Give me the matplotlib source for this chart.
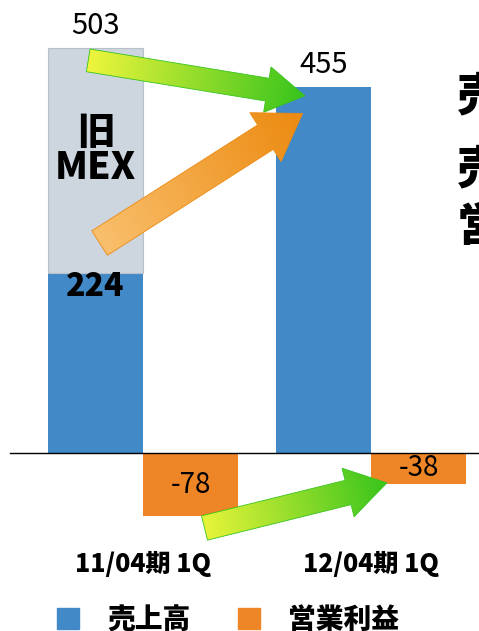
import numpy as np
import matplotlib.pyplot as plt
from matplotlib.colors import LinearSegmentedColormap
from matplotlib.patches import FancyArrow, Patch

plt.rcParams['font.family'] = ['Noto Sans CJK JP', 'DejaVu Sans']

periods = ['11/04期 1Q', '12/04期 1Q']
sales = [224, 455]          # 売上高
sales_with_old_mex = 503    # 旧MEX分を含めた前期売上高
profit = [-78, -38]         # 営業利益
legend_labels = ['売上高', '営業利益']

BLUE = '#4189c7'
ORANGE = '#ee8526'
GREY = '#cdd5df'

fig = plt.figure(figsize=(4.79, 6.31), dpi=100)
ax = fig.add_axes([0, 0, 1, 1])
ax.axis('off')

x = np.arange(len(periods))
w = 0.417
ax.bar(x - w / 2, sales, w, color=BLUE, zorder=2)
ax.bar(x[0] - w / 2, sales_with_old_mex - sales[0], w, bottom=sales[0],
       color=GREY, edgecolor='#b8c0ca', linewidth=0.8, zorder=2)
ax.bar(x + w / 2, profit, w, color=ORANGE, zorder=2)
ax.set_xlim(-0.627, 1.474)
ax.set_ylim(-221, 563)
ax.plot([-0.583, 1.474], [0, 0], color='black', lw=1.0, zorder=3)

# value labels
ax.annotate(str(sales_with_old_mex), (x[0] - w / 2, sales_with_old_mex),
            xytext=(0, 5), textcoords='offset points', ha='center', va='bottom',
            fontsize=21, zorder=6)
ax.annotate(str(sales[1]), (x[1] - w / 2, sales[1]),
            xytext=(0, 5), textcoords='offset points', ha='center', va='bottom',
            fontsize=21, zorder=6)
ax.annotate(str(sales[0]), (x[0] - w / 2, sales[0]),
            xytext=(0, -10), textcoords='offset points', ha='center', va='center',
            fontsize=23, fontweight='black', zorder=6)
ax.text(x[0] - w / 2, (sales[0] + sales_with_old_mex) / 2 + 12, '旧\nMEX',
        ha='center', va='center', fontsize=27, fontweight='black',
        linespacing=0.9, zorder=4)
for xi, p in zip(x, profit):
    ax.text(xi + w / 2, p / 2, str(p), ha='center', va='center', fontsize=20,
            zorder=6)

# period labels
for xi, lab in zip(x, periods):
    ax.text(xi, 0.106, lab, transform=ax.get_xaxis_transform(), ha='center',
            va='center', fontsize=18, fontweight='black')

# gradient arrows drawn in pixel space on an overlay
ov = fig.add_axes([0, 0, 1, 1])
ov.set_xlim(0, 479)
ov.set_ylim(0, 631)
ov.axis('off')
ov.patch.set_alpha(0)


def to_px(pt):
    d = ax.transData.transform(pt)
    return ov.transData.inverted().transform(d)


def grad_arrow(start, end, c0, c1, width, head_w, head_l):
    x0, y0 = to_px(start)
    x1, y1 = to_px(end)
    dx, dy = x1 - x0, y1 - y0
    arr = FancyArrow(x0, y0, dx, dy, width=width, head_width=head_w,
                     head_length=head_l, length_includes_head=True,
                     facecolor='none', edgecolor=c1, lw=0.6, zorder=5)
    ov.add_patch(arr)
    xs = np.linspace(min(x0, x1) - head_w, max(x0, x1) + head_w, 200)
    ys = np.linspace(min(y0, y1) - head_w, max(y0, y1) + head_w, 200)
    gx, gy = np.meshgrid(xs, ys)
    L = np.hypot(dx, dy)
    t = ((gx - x0) * dx + (gy - y0) * dy) / L ** 2
    cmap = LinearSegmentedColormap.from_list('g', [c0, c1])
    im = ov.imshow(np.clip(t, 0, 1), cmap=cmap, vmin=0, vmax=1, origin='lower',
                   extent=(xs[0], xs[-1], ys[0], ys[-1]), aspect='auto',
                   interpolation='bilinear', zorder=4.9)
    im.set_clip_path(arr)


grad_arrow((-0.24, 488), (0.71, 444), '#eef53c', '#38c41c', 23, 46, 38)
grad_arrow((-0.19, 261), (0.70, 422), '#f9bf6c', '#ec8a10', 29, 58, 44)
grad_arrow((0.27, -93), (1.07, -37), '#e6f43a', '#38c41c', 25, 50, 40)
ov.set_xlim(0, 479)
ov.set_ylim(0, 631)

# legend
handles = [Patch(color=BLUE), Patch(color=ORANGE)]
fig.legend(handles, legend_labels, ncol=2, loc='center',
           bbox_to_anchor=(228 / 479, 11 / 631), frameon=False,
           prop={'size': 20, 'weight': 'black'}, handlelength=0.8,
           handleheight=0.8, handletextpad=1.0, columnspacing=1.7)

# side headings running off the right edge
for yy, ch in [(0.846, '売'), (0.730, '売'), (0.640, '営')]:
    fig.text(0.954, yy, ch, fontsize=33, fontweight='black', va='center')

fig.savefig('out.png', dpi=100)
